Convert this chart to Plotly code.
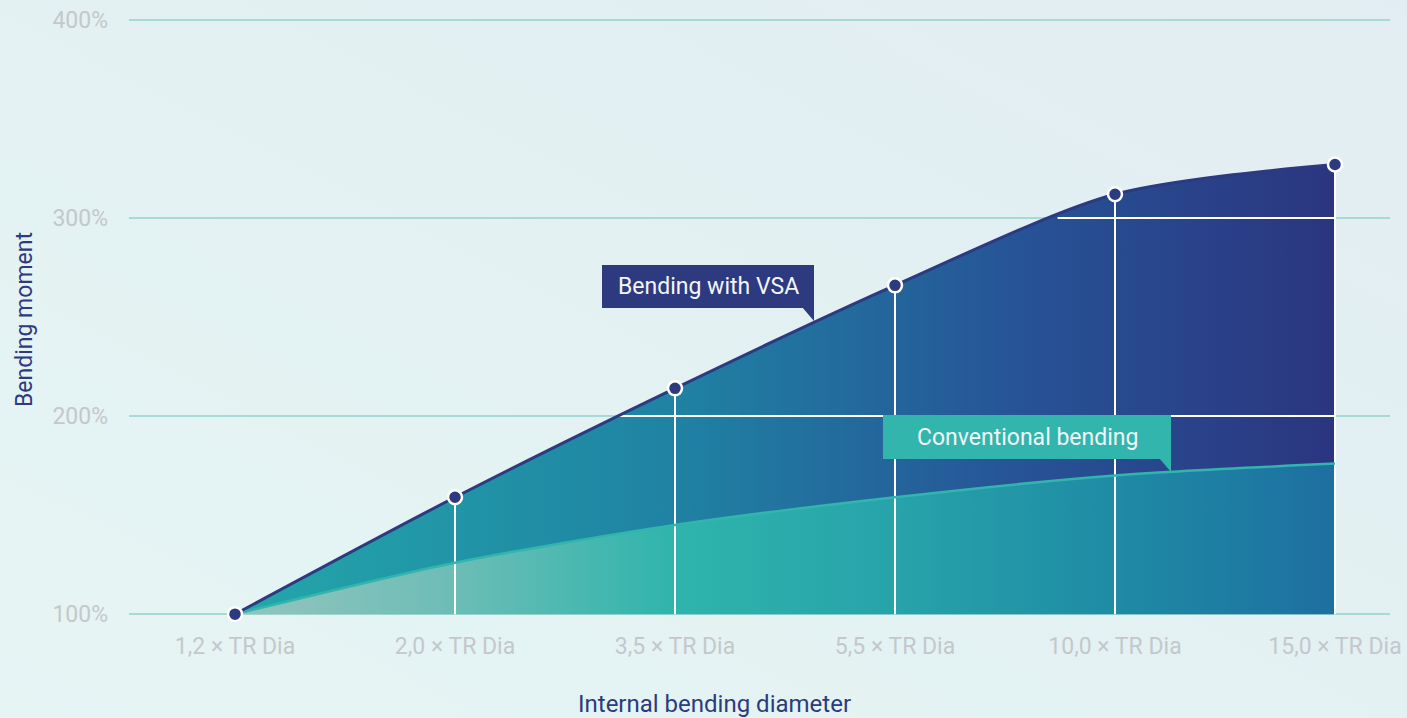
import base64
import plotly.graph_objects as go

# ---------------- data ----------------
categories = ["1,2 × TR Dia", "2,0 × TR Dia", "3,5 × TR Dia",
              "5,5 × TR Dia", "10,0 × TR Dia", "15,0 × TR Dia"]
vsa_values = [100, 159, 214, 266, 312, 327]
conventional_values = [100, 126, 145, 159, 170, 176]
y_ticks = [100, 200, 300, 400]
y_tick_labels = ["100%", "200%", "300%", "400%"]
label_vsa = "Bending with VSA"
label_conv = "Conventional bending"
x_title = "Internal bending diameter"
y_title = "Bending moment"

# ---------------- layout constants ----------------
W, H = 1407, 718
ML, MR, MT, MB = 129, 17, 12, 88
PW, PH = W - ML - MR, H - MT - MB
NAVY = "#2d3a80"
TEAL = "#31b5ad"
FONT = "Roboto"
TICK_COLOR = "#c4c8cb"

x_idx = list(range(len(categories)))
base = [y_ticks[0]] * len(categories)


def px2paper(px, py):
    return (px - ML) / PW, (H - MB - py) / PH


fig = go.Figure()

# baseline (invisible) for conventional fill
fig.add_trace(go.Scatter(x=x_idx, y=base, mode="lines", line=dict(width=0),
                         hoverinfo="skip", showlegend=False))
# conventional area
fig.add_trace(go.Scatter(
    x=x_idx, y=conventional_values, mode="lines", fill="tonexty",
    line=dict(width=0, shape="spline", smoothing=0.8),
    fillgradient=dict(type="horizontal", colorscale=[
        [0, "#95c4bf"], [0.2, "#6cbdb6"], [0.4, "#2fb4ac"],
        [0.6, "#27a3aa"], [0.8, "#1f8ba5"], [1, "#1d6fa0"]]),
    hoverinfo="skip", showlegend=False))
# VSA area (between conventional and VSA)
fig.add_trace(go.Scatter(
    x=x_idx, y=vsa_values, mode="lines", fill="tonexty",
    line=dict(width=0, shape="spline", smoothing=0.8),
    fillgradient=dict(type="horizontal", colorscale=[
        [0, "#23a7aa"], [0.4, "#1f82a3"], [0.7, "#265597"], [1, "#2b3580"]]),
    hoverinfo="skip", showlegend=False))

# white guide lines over the fill: verticals from each point, horizontals at gridlines
wx, wy = [], []
for i in x_idx[1:]:
    wx += [i, i, None]
    wy += [y_ticks[0], vsa_values[i], None]
for level in y_ticks[1:-1]:
    for i in range(len(vsa_values) - 1):
        a, b = vsa_values[i], vsa_values[i + 1]
        if a <= level <= b and b != a:
            xc = i + (level - a) / (b - a)
            wx += [xc, x_idx[-1], None]
            wy += [level, level, None]
            break
fig.add_trace(go.Scatter(x=wx, y=wy, mode="lines",
                         line=dict(color="white", width=2),
                         hoverinfo="skip", showlegend=False))

# curve lines
fig.add_trace(go.Scatter(x=x_idx, y=conventional_values, mode="lines",
                         line=dict(color=TEAL, width=2.5, shape="spline", smoothing=0.8),
                         hoverinfo="skip", showlegend=False))
fig.add_trace(go.Scatter(x=x_idx, y=vsa_values, mode="lines",
                         line=dict(color=NAVY, width=3, shape="spline", smoothing=0.8),
                         hoverinfo="skip", showlegend=False))
# markers
fig.add_trace(go.Scatter(x=x_idx, y=vsa_values, mode="markers", cliponaxis=False,
                         marker=dict(size=14, color=NAVY, line=dict(color="white", width=2.5)),
                         showlegend=False))

# ---------------- callouts ----------------
shapes = []
annotations = []


def callout(x0, y0, x1, y1, tail, color, text):
    a0 = px2paper(x0, y1)
    a1 = px2paper(x1, y0)
    shapes.append(dict(type="rect", xref="paper", yref="paper",
                       x0=a0[0], y0=a0[1], x1=a1[0], y1=a1[1],
                       fillcolor=color, line=dict(width=0), layer="above"))
    pts = [px2paper(*p) for p in tail]
    path = "M {} {} L {} {} L {} {} Z".format(pts[0][0], pts[0][1], pts[1][0], pts[1][1],
                                               pts[2][0], pts[2][1])
    shapes.append(dict(type="path", xref="paper", yref="paper", path=path,
                       fillcolor=color, line=dict(width=0), layer="above"))
    c = px2paper((x0 + x1) / 2, (y0 + y1) / 2)
    annotations.append(dict(text=text, xref="paper", yref="paper", x=c[0], y=c[1],
                            xanchor="center", yanchor="middle", showarrow=False,
                            font=dict(family=FONT, size=23, color="#f2f6f8")))


callout(602, 265, 814, 308, [(802, 307), (814, 307), (814, 321)], NAVY, label_vsa)
callout(883, 415, 1171, 459, [(1159, 458), (1171, 458), (1171, 472)], TEAL, label_conv)

# axis titles
annotations.append(dict(text=x_title, xref="paper", yref="paper",
                        x=px2paper(714, 0)[0], y=px2paper(0, 704)[1],
                        xanchor="center", yanchor="middle", showarrow=False,
                        font=dict(family=FONT, size=24, color=NAVY)))
annotations.append(dict(text=y_title, xref="paper", yref="paper",
                        x=px2paper(24, 0)[0], y=px2paper(0, 320)[1], textangle=-90,
                        xanchor="center", yanchor="middle", showarrow=False,
                        font=dict(family=FONT, size=23, color=NAVY)))

# background gradient
svg = ('<svg xmlns="http://www.w3.org/2000/svg" width="1407" height="718">'
       '<defs><linearGradient id="g" x1="0" y1="1" x2="1" y2="0">'
       '<stop offset="0" stop-color="#e6f5f4"/><stop offset="0.5" stop-color="#e3f1f2"/>'
       '<stop offset="1" stop-color="#e2edf3"/></linearGradient></defs>'
       '<rect width="1407" height="718" fill="url(#g)"/></svg>')
src = "data:image/svg+xml;base64," + base64.b64encode(svg.encode()).decode()
bx0, by1 = px2paper(0, 0)
bx1, by0 = px2paper(W, H)

fig.update_layout(
    width=W, height=H,
    margin=dict(l=ML, r=MR, t=MT, b=MB, pad=0, autoexpand=False),
    paper_bgcolor="#e4f2f2", plot_bgcolor="rgba(0,0,0,0)",
    font=dict(family=FONT),
    shapes=shapes, annotations=annotations,
    images=[dict(source=src, xref="paper", yref="paper", x=bx0, y=by1,
                 sizex=bx1 - bx0, sizey=by1 - by0, sizing="stretch",
                 xanchor="left", yanchor="top", layer="below")],
    xaxis=dict(range=[(ML - 235) / 220, (W - MR - 235) / 220], automargin=False,
               tickmode="array", tickvals=x_idx, ticktext=categories,
               showgrid=False, zeroline=False, showline=False, ticks="",
               tickfont=dict(family=FONT, size=23, color=TICK_COLOR)),
    yaxis=dict(range=[92, 404], automargin=False, tickmode="array", tickvals=y_ticks,
               ticktext=y_tick_labels, showgrid=True, gridcolor="#a6dad5",
               gridwidth=1.5, zeroline=False, showline=False, ticks="",
               ticklabelstandoff=20,
               tickfont=dict(family=FONT, size=23, color=TICK_COLOR)),
)

fig.write_html("out.html", config={"displayModeBar": False},
               post_script="document.body.style.margin='0';document.body.style.overflow='hidden';")
